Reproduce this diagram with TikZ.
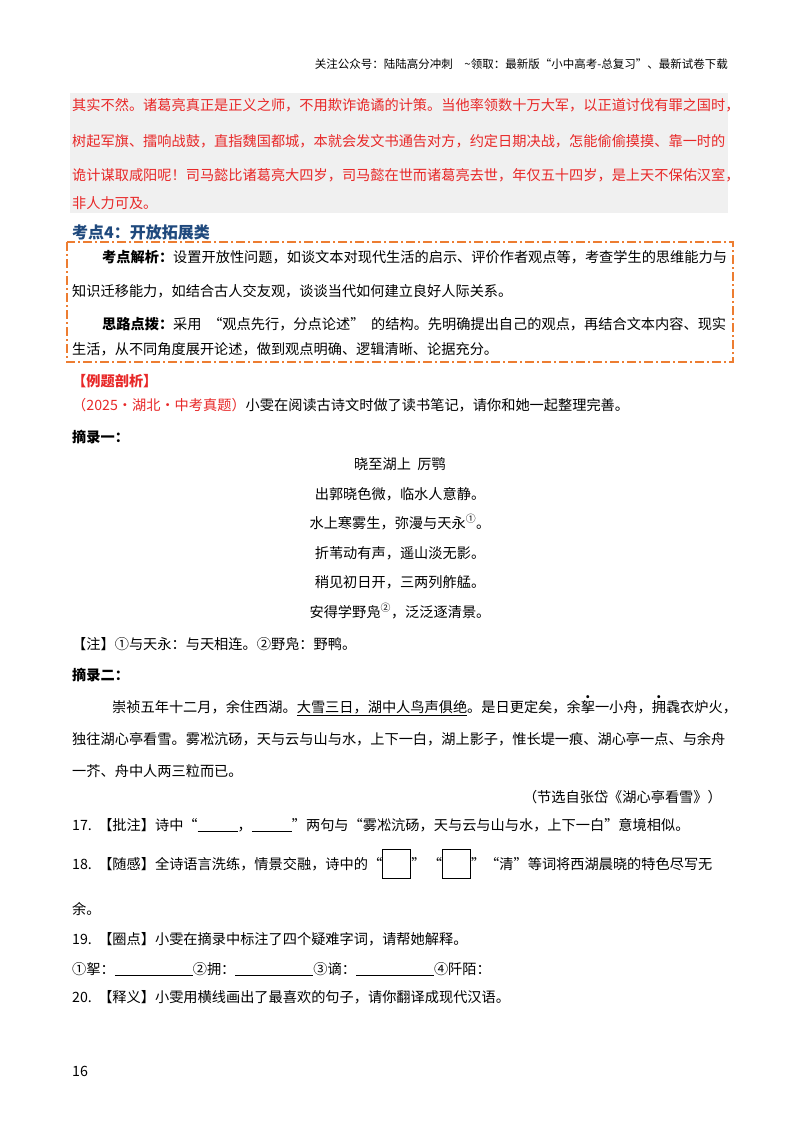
\documentclass[tikz,border=0pt]{standalone}
\usepackage{fontspec}
\setmainfont{Noto Sans CJK SC}
\XeTeXlinebreaklocale "zh"
\XeTeXlinebreakskip=0pt plus 2pt
\definecolor{redt}{RGB}{232,40,40}
\definecolor{bluet}{RGB}{31,73,125}
\definecolor{orng}{RGB}{237,125,49}
\newcommand{\jl}[4]{\node[anchor=base west,inner sep=0] at (#1,#2) {\makebox[#3pt][s]{#4}};}
\newcommand{\dotc}[1]{\leavevmode\rlap{\makebox[1em]{\raisebox{0.95em}{\textbf{.}}}}#1}
\newcommand{\blankbox}{{\fboxsep=0pt\fboxrule=0.8pt\raisebox{-9pt}{\framebox[29pt]{\rule{0pt}{28pt}}}}}
\begin{document}
\begin{tikzpicture}[x=1pt,y=-1pt,every node/.style={inner sep=0,font=\fontsize{14.2}{15}\selectfont}]
\useasboundingbox[fill=white] (0,0) rectangle (800,1132);
\node[anchor=base east,font=\fontsize{11.5}{12}\selectfont] (hdr) at (728,68) {关注公众号：陆陆高分冲刺\quad \~{}领取：最新版“小中高考-总复习”、最新试卷下载};
\fill[gray!12] (70,93) rectangle (728,213);
\begin{scope}[every node/.append style={text=redt}]
\jl{72}{110}{656}{其实不然。诸葛亮真正是正义之师，不用欺诈诡谲的计策。当他率领数十万大军，以正道讨伐有罪之国时，}
\jl{72}{146}{628}{树起军旗、擂响战鼓，直指魏国都城，本就会发文书通告对方，约定日期决战，怎能偷偷摸摸、靠一时的}
\jl{72}{180}{656}{诡计谋取咸阳呢！司马懿比诸葛亮大四岁，司马懿在世而诸葛亮去世，年仅五十四岁，是上天不保佑汉室，}
\node[anchor=base west] (r4) at (72,208) {非人力可及。};
\end{scope}
\node[anchor=base west,text=bluet,font=\fontsize{16}{17}\selectfont\bfseries] (kd) at (72,238) {考点4：开放拓展类};
\draw[orng,line width=1.6pt,dash pattern=on 9pt off 3pt on 2pt off 3pt] (67,242) rectangle (733,362);
\jl{102}{262}{624}{\textbf{考点解析：}设置开放性问题，如谈文本对现代生活的启示、评价作者观点等，考查学生的思维能力与}
\node[anchor=base west] (k2) at (72,296) {知识迁移能力，如结合古人交友观，谈谈当代如何建立良好人际关系。};
\jl{102}{329}{624}{\textbf{思路点拨：}采用\ “观点先行，分点论述”\ 的结构。先明确提出自己的观点，再结合文本内容、现实}
\node[anchor=base west] (k4) at (72,354) {生活，从不同角度展开论述，做到观点明确、逻辑清晰、论据充分。};
\node[anchor=base west,text=redt,font=\fontsize{14.2}{15}\selectfont\bfseries] (lt) at (72,386) {【例题剖析】};
\node[anchor=base west] (q0) at (72,410) {\textcolor{redt}{（2025·湖北·中考真题）}小雯在阅读古诗文时做了读书笔记，请你和她一起整理完善。};
\node[anchor=base west,font=\fontsize{14.2}{15}\selectfont\bfseries] (z1) at (72,442) {摘录一：};
\begin{scope}[every node/.append style={anchor=base}]
\node (p0) at (400,469) {晓至湖上\ \ 厉鹗};
\node (p1) at (400,499) {出郭晓色微，临水人意静。};
\node (p2) at (400,528) {水上寒雾生，弥漫与天永\textsuperscript{①}。};
\node (p3) at (400,558) {折苇动有声，遥山淡无影。};
\node (p4) at (400,587) {稍见初日开，三两列舴艋。};
\node (p5) at (400,617) {安得学野凫\textsuperscript{②}，泛泛逐清景。};
\end{scope}
\node[anchor=base west] (zs) at (72,649) {【注】①与天永：与天相连。②野凫：野鸭。};
\node[anchor=base west,font=\fontsize{14.2}{15}\selectfont\bfseries] (z2) at (72,680) {摘录二：};
\jl{112}{712}{616}{崇祯五年十二月，余住西湖。\underline{大雪三日，湖中人鸟声俱绝}。是日更定矣，余\dotc{挐}一小舟，\dotc{拥}毳衣炉火，}
\jl{72}{744}{656}{独往湖心亭看雪。雾凇沆砀，天与云与山与水，上下一白，湖上影子，惟长堤一痕、湖心亭一点、与余舟}
\node[anchor=base west] (p6) at (72,776) {一芥、舟中人两三粒而已。};
\node[anchor=base east] (src) at (722,802) {（节选自张岱《湖心亭看雪》）};
\node[anchor=base west] (q17) at (72,830) {17.\ \ 【批注】诗中“\underline{\hspace{40pt}}，\underline{\hspace{40pt}}”两句与“雾凇沆砀，天与云与山与水，上下一白”意境相似。};
\node[anchor=base west] (q18) at (72,869) {18.\ \ 【随感】全诗语言洗练，情景交融，诗中的“\blankbox”\,“\blankbox”“清”等词将西湖晨晓的特色尽写无};
\node[anchor=base west] (q18b) at (72,914) {余。};
\node[anchor=base west] (q19) at (72,944) {19.\ \ 【圈点】小雯在摘录中标注了四个疑难字词，请帮她解释。};
\node[anchor=base west] (q19b) at (72,974) {①挐：\underline{\hspace{78pt}}②拥：\underline{\hspace{78pt}}③谪：\underline{\hspace{78pt}}④阡陌：};
\node[anchor=base west] (q20) at (72,1002) {20.\ \ 【释义】小雯用横线画出了最喜欢的句子，请你翻译成现代汉语。};
\node[anchor=base west] (pg) at (72,1076) {16};
\end{tikzpicture}
\end{document}
